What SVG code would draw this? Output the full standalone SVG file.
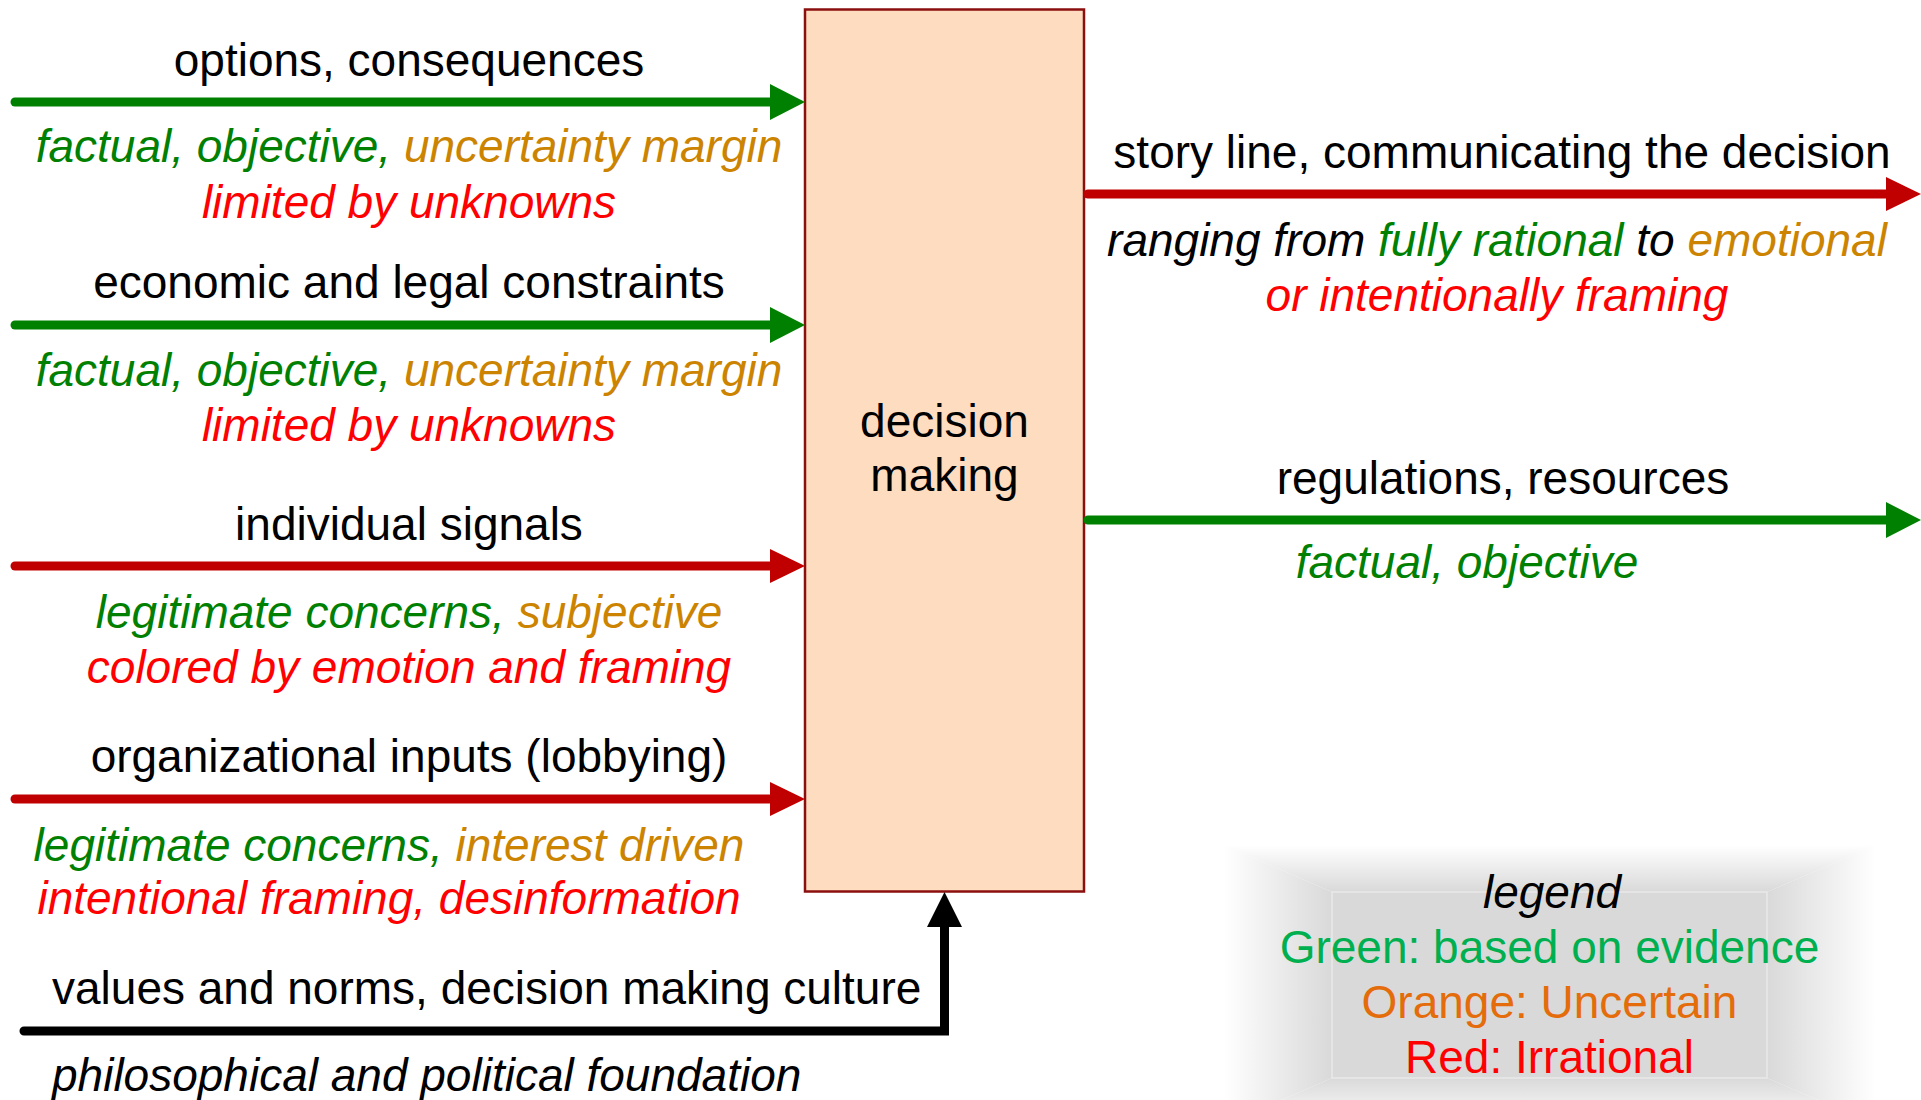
<svg xmlns="http://www.w3.org/2000/svg" width="1921" height="1100" viewBox="0 0 1921 1100">
<style>
text{font-family:"Liberation Sans",Arial,sans-serif;font-size:46px;fill:#000}
.c{text-anchor:middle}
.i{font-style:italic}
.g{fill:#008000}
.o{fill:#CC8400}
.r{fill:#FF0000}
.k{fill:#000}
.ln{fill:none;stroke-width:9;stroke-linecap:round;stroke-linejoin:miter}
.lg{stroke:#008000;marker-end:url(#ag)}
.lr{stroke:#C00000;marker-end:url(#ar)}
.lk{stroke:#000;marker-end:url(#ak)}
</style>
<defs>
<marker id="ag" markerUnits="userSpaceOnUse" markerWidth="36" markerHeight="38" viewBox="0 -19 36 38" refX="0" refY="0" orient="auto"><path d="M0,-18 L35,0 L0,18 z" fill="#008000"/></marker>
<marker id="ar" markerUnits="userSpaceOnUse" markerWidth="36" markerHeight="38" viewBox="0 -19 36 38" refX="0" refY="0" orient="auto"><path d="M0,-17 L35,0 L0,17 z" fill="#C00000"/></marker>
<marker id="ak" markerUnits="userSpaceOnUse" markerWidth="36" markerHeight="38" viewBox="0 -19 36 38" refX="0" refY="0" orient="auto"><path d="M0,-17.5 L35,0 L0,17.5 z" fill="#000"/></marker>
<linearGradient id="gl" x1="0" y1="0" x2="1" y2="0"><stop offset="0" stop-color="#fff"/><stop offset="1" stop-color="#D9D9D9"/></linearGradient>
<linearGradient id="gr" x1="1" y1="0" x2="0" y2="0"><stop offset="0" stop-color="#fff"/><stop offset="1" stop-color="#D9D9D9"/></linearGradient>
<linearGradient id="gt" x1="0" y1="0" x2="0" y2="1"><stop offset="0" stop-color="#fff"/><stop offset="1" stop-color="#D9D9D9"/></linearGradient>
<linearGradient id="gb" x1="0" y1="1" x2="0" y2="0"><stop offset="0" stop-color="#fff"/><stop offset="1" stop-color="#D9D9D9"/></linearGradient>
</defs>

<g id="legend">
<polygon points="1224,845 1332,892 1332,1078 1224,1125" fill="url(#gl)"/>
<polygon points="1876,845 1767,892 1767,1078 1876,1125" fill="url(#gr)"/>
<polygon points="1224,845 1876,845 1767,892 1332,892" fill="url(#gt)"/>
<polygon points="1224,1125 1876,1125 1767,1078 1332,1078" fill="url(#gb)"/>
<rect x="1332" y="892" width="435" height="186" fill="#D9D9D9" stroke="#E9E9E9" stroke-width="1.5"/>
<text class="c i" x="1552" y="908">legend</text>
<text class="c" x="1549.5" y="963" style="fill:#00B050">Green: based on evidence</text>
<text class="c" x="1549.5" y="1018" style="fill:#E46C0A">Orange: Uncertain</text>
<text class="c" x="1549.5" y="1073" style="fill:#FF0000">Red: Irrational</text>
</g>

<g id="decision-making">
<rect x="805" y="9.5" width="279" height="882" fill="#FDDCC0" stroke="#8B0F0F" stroke-width="2.5"/>
<text class="c" x="944.5" y="437">decision</text>
<text class="c" x="944.5" y="491">making</text>
</g>

<g id="connectors">
<path class="ln lg" d="M15,102 H770"/>
<path class="ln lg" d="M15,325 H770"/>
<path class="ln lr" d="M15,566 H770"/>
<path class="ln lr" d="M15,799 H770"/>
<path class="ln lk" d="M24,1031 H944.5 V927"/>
<path class="ln lr" d="M1088,194 H1886"/>
<path class="ln lg" d="M1088,520 H1886"/>
</g>

<g id="in-options">
<text class="c" x="409" y="76">options, consequences</text>
<text class="c i g" x="409" y="162">factual, objective, <tspan class="o">uncertainty margin</tspan></text>
<text class="c i r" x="409" y="218">limited by unknowns</text>
</g>

<g id="in-constraints">
<text class="c" x="409" y="298">economic and legal constraints</text>
<text class="c i g" x="409" y="386">factual, objective, <tspan class="o">uncertainty margin</tspan></text>
<text class="c i r" x="409" y="441">limited by unknowns</text>
</g>

<g id="in-signals">
<text class="c" x="409" y="540">individual signals</text>
<text class="c i g" x="409" y="628">legitimate concerns, <tspan class="o">subjective</tspan></text>
<text class="c i r" x="409" y="683">colored by emotion and framing</text>
</g>

<g id="in-organizational">
<text class="c" x="409" y="772">organizational inputs (lobbying)</text>
<text class="c i g" x="389" y="861">legitimate concerns, <tspan class="o">interest driven</tspan></text>
<text class="c i r" x="389" y="914">intentional framing, desinformation</text>
</g>

<g id="in-values">
<text x="52" y="1004">values and norms, decision making culture</text>
<text class="i" x="52" y="1091">philosophical and political foundation</text>
</g>

<g id="out-story">
<text class="c" x="1502" y="168">story line, communicating the decision</text>
<text class="c i" x="1497" y="256">ranging from <tspan class="g">fully rational</tspan> to <tspan class="o">emotional</tspan></text>
<text class="c i r" x="1497" y="311">or intentionally framing</text>
</g>

<g id="out-regulations">
<text class="c" x="1503" y="494">regulations, resources</text>
<text class="c i g" x="1467" y="578">factual, objective</text>
</g>
</svg>
